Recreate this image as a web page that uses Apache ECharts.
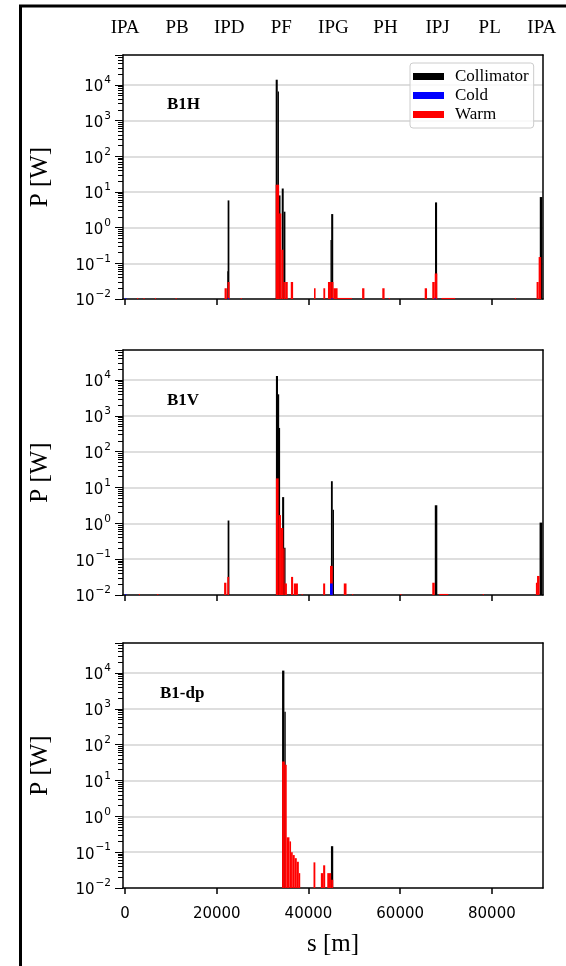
<!DOCTYPE html>
<html><head><meta charset="utf-8">
<script src="https://cdn.jsdelivr.net/npm/echarts@6/dist/echarts.min.js"></script>
<style>html,body{margin:0;padding:0;background:#fff}#c{width:566px;height:966px}</style>
</head><body><div id="c"></div>
<script>
// ---- axes ----
const S_MIN = -450, S_MAX = 91150;
const P_MIN = 0.01, P_MAX = 69000;
const xTicks = [0, 20000, 40000, 60000, 80000];
const pointNames = ['IPA', 'PB', 'IPD', 'PF', 'IPG', 'PH', 'IPJ', 'PL', 'IPA'];
const pointPos = [0, 11360, 22720, 34080, 45440, 56800, 68160, 79520, 90880];
const panelLabels = ['B1H', 'B1V', 'B1-dp'];
const seriesNames = ['Collimator', 'Cold', 'Warm'];

// ---- data: [s start (m), s end (m), P (W)] ----
const b1hCollimator = [
  [22300, 22370, 0.06], [22370, 22750, 5.8],
  [32850, 33300, 14000], [33300, 33550, 6500], [33550, 33900, 8],
  [34170, 34600, 12.5], [34600, 34970, 2.8],
  [44800, 44950, 0.45], [44950, 45400, 2.4],
  [67600, 68050, 5.1], [90450, 91000, 7.2]
];
const b1hCold = [[0, 250, 0.0107], [22400, 22600, 0.0107], [45000, 45250, 0.0107], [67500, 67750, 0.0107]];
const b1hWarm = [
  [21700, 22200, 0.02], [22350, 22800, 0.03],
  [32850, 33600, 16], [33600, 34080, 2.5], [34080, 34540, 0.24], [34540, 34970, 0.03],
  [34970, 35480, 0.03], [36140, 36650, 0.03],
  [41200, 41550, 0.02], [43250, 43650, 0.02], [44250, 44950, 0.03], [44950, 45450, 0.03], [45450, 46350, 0.02],
  [51700, 52200, 0.02], [56100, 56600, 0.02], [65350, 65860, 0.02], [67000, 67540, 0.03], [67540, 68100, 0.052],
  [89750, 90200, 0.03], [90200, 90750, 0.15],
  [2600, 2800, 0.0107], [4000, 4200, 0.0107], [6500, 6700, 0.0107], [11000, 11200, 0.0107], [25200, 25400, 0.0107],
  [46350, 49500, 0.0107], [57500, 57700, 0.0107], [69000, 72000, 0.0107], [85000, 85200, 0.0107]
];

const b1vCollimator = [
  [22370, 22750, 1.2],
  [32900, 33350, 13000], [33350, 33550, 4000], [33550, 33800, 460],
  [34250, 34700, 5.4], [34700, 35000, 0.21],
  [44900, 45300, 15], [45300, 45450, 2.4],
  [67550, 68100, 3.2], [90400, 91000, 1.05]
];
const b1vCold = [[0, 200, 0.0107], [44700, 45300, 0.021]];
const b1vWarm = [
  [21600, 22100, 0.022], [22300, 22700, 0.032],
  [32900, 33500, 18], [33500, 34000, 1.7], [34000, 34500, 0.74], [34500, 34750, 0.2],
  [34750, 35300, 0.021], [36200, 36650, 0.032], [36800, 37700, 0.021],
  [43200, 43640, 0.021], [44700, 45300, 0.065], [47700, 48300, 0.021],
  [67000, 67540, 0.022], [89600, 89850, 0.022], [89850, 90400, 0.034],
  [3000, 3200, 0.0107], [7000, 7200, 0.0107], [38500, 38700, 0.0107], [49500, 49700, 0.0107],
  [60000, 60200, 0.0107], [68500, 70500, 0.0107], [78000, 78200, 0.0107]
];

const b1dpCollimator = [[34240, 34750, 11700], [34750, 35040, 830], [44900, 45400, 0.147]];
const b1dpCold = [];
const b1dpWarm = [
  [34240, 34830, 34], [34830, 35260, 27.5], [35260, 35850, 0.26], [35850, 36200, 0.2],
  [36200, 36570, 0.1], [36570, 37000, 0.083], [37000, 37450, 0.068], [37450, 37900, 0.054],
  [37900, 38200, 0.026], [41100, 41500, 0.052], [42700, 43200, 0.026], [43200, 43650, 0.043],
  [44100, 44950, 0.026], [44950, 45400, 0.017]
];

const panels = [
  {Collimator: b1hCollimator, Cold: b1hCold, Warm: b1hWarm},
  {Collimator: b1vCollimator, Cold: b1vCold, Warm: b1vWarm},
  {Collimator: b1dpCollimator, Cold: b1dpCold, Warm: b1dpWarm}
];
const colors = {Collimator: '#000000', Cold: '#0000ff', Warm: '#ff0000'};

// ---- layout ----
const gridTops = [55, 350, 643];
const gridH = [244, 245, 245];
const labelPos = [[167, 96], [167, 392], [160, 685]];
const SERIF = 'Liberation Serif';
const SANS = 'DejaVu Sans';

function logLabel(v) {
  const l = Math.log10(v);
  const e = Math.round(l);
  if (Math.abs(l - e) > 0.01) return '';
  const ex = e < 0 ? '\u2212' + (-e) : String(e);
  return '{b|10}{s|' + ex + '}';
}
const labelRich = {
  b: {fontFamily: SANS, fontSize: 15, color: '#000', lineHeight: 20, verticalAlign: 'bottom'},
  s: {fontFamily: SANS, fontSize: 10.5, color: '#000', lineHeight: 11, verticalAlign: 'top', padding: [0, 0, 0, 1]}
};

function renderBin(params, api) {
  const p0 = api.coord([api.value(0), api.value(2)]);
  const p1 = api.coord([api.value(1), P_MIN]);
  const w = Math.max(p1[0] - p0[0], 1.2);
  return {
    type: 'rect',
    shape: {x: p0[0], y: p0[1], width: w, height: Math.max(p1[1] - p0[1], 0)},
    style: {fill: api.visual('color')}
  };
}

const frameLine = {show: true, onZero: false, lineStyle: {color: '#000', width: 1.5}};
const grids = [], xAxes = [], yAxes = [], series = [];
for (let i = 0; i < 3; i++) {
  grids.push({left: 123, right: 23, top: gridTops[i], height: gridH[i]});
  xAxes.push({
    type: 'value', gridIndex: i, min: S_MIN, max: S_MAX, position: 'bottom',
    axisLine: frameLine,
    axisTick: {show: true, inside: false, length: 6, lineStyle: {color: '#000', width: 1.5}, customValues: xTicks},
    axisLabel: {show: i === 2, customValues: xTicks, margin: 19, fontFamily: SANS, fontSize: 15, color: '#000',
      formatter: v => String(v)},
    splitLine: {show: false},
    name: i === 2 ? 's [m]' : '', nameLocation: 'middle', nameGap: 44,
    nameTextStyle: {fontFamily: SERIF, fontSize: 25, color: '#000'}
  });
  yAxes.push({
    type: 'log', logBase: 10, gridIndex: i, min: P_MIN, max: P_MAX, position: 'left',
    axisLine: frameLine,
    axisTick: {show: true, inside: false, length: 8, lineStyle: {color: '#000', width: 1}},
    minorTick: {show: true, splitNumber: 9, length: 5, lineStyle: {color: '#000', width: 1}},
    axisLabel: {formatter: logLabel, rich: labelRich, margin: 12, showMaxLabel: false},
    splitLine: {show: true, showMinLine: false, showMaxLine: false, lineStyle: {color: '#d3d3d3', width: 1.5}},
    name: 'P [W]', nameLocation: 'middle', nameGap: 70,
    nameTextStyle: {fontFamily: SERIF, fontSize: 25, color: '#000'}
  });
  // frame: right spine
  yAxes.push({
    type: 'log', logBase: 10, gridIndex: i, min: P_MIN, max: P_MAX, position: 'right',
    axisLine: frameLine, axisTick: {show: false}, axisLabel: {show: false}, splitLine: {show: false}
  });
  for (const key of ['Collimator', 'Warm', 'Cold']) {
    series.push({
      type: 'custom', name: key, xAxisIndex: i, yAxisIndex: 2 * i,
      renderItem: renderBin, clip: true,
      encode: {x: [0, 1], y: 2},
      itemStyle: {color: colors[key]},
      data: panels[i][key]
    });
  }
}
// top spines (with interaction point names on the first panel)
for (let i = 0; i < 3; i++) {
  xAxes.push({
    type: 'value', gridIndex: i, min: S_MIN, max: S_MAX, position: 'top',
    axisLine: frameLine, axisTick: {show: false}, splitLine: {show: false},
    axisLabel: {
      show: i === 0, customValues: pointPos, margin: 17,
      fontFamily: SERIF, fontSize: 19, color: '#000',
      formatter: v => pointNames[pointPos.indexOf(v)] || ''
    }
  });
}

const graphic = [
  {type: 'rect', shape: {x: 20.5, y: 6, width: 700, height: 1100}, style: {fill: 'none', stroke: '#000', lineWidth: 3}, silent: true}
];
for (let i = 0; i < 3; i++) {
  graphic.push({type: 'text', left: labelPos[i][0], top: labelPos[i][1],
    style: {text: panelLabels[i], font: 'bold 17px "Liberation Serif"', fill: '#000'}});
}

const chart = echarts.init(document.getElementById('c'), null, {renderer: 'canvas'});
chart.setOption({
  animation: false,
  backgroundColor: '#fff',
  grid: grids, xAxis: xAxes, yAxis: yAxes, series: series,
  legend: {
    data: seriesNames.map(n => ({name: n, icon: 'rect'})),
    orient: 'vertical', left: 410, top: 63,
    itemWidth: 31, itemHeight: 7, itemGap: 2,
    selectedMode: false,
    textStyle: {fontFamily: SERIF, fontSize: 17, color: '#000', padding: [0, 0, 0, 6]},
    backgroundColor: 'rgba(255,255,255,0.8)', borderColor: '#cccccc', borderWidth: 1, borderRadius: 3,
    padding: [5, 5, 5, 3]
  },
  graphic: graphic
});
</script></body></html>
